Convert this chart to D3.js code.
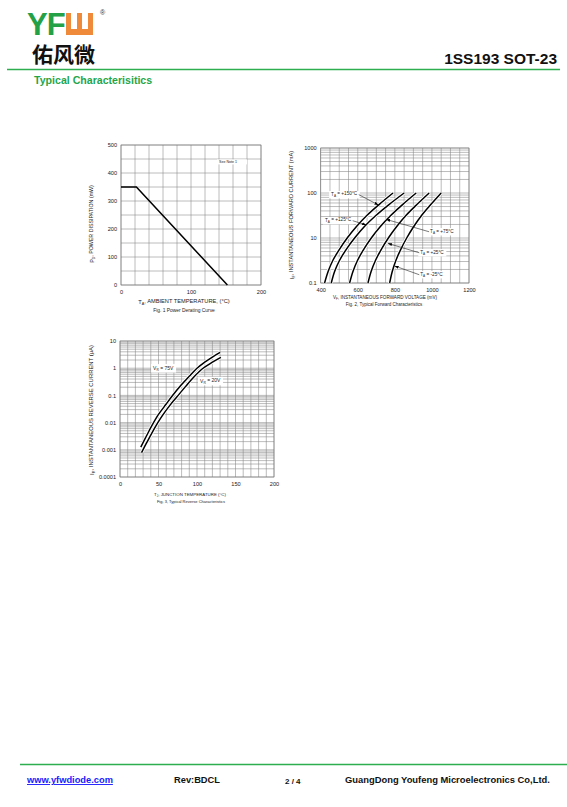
<!DOCTYPE html>
<html lang="en">
<head>
<meta charset="utf-8">
<title>1SS193 SOT-23 Typical Characteristics</title>
<style type="text/css">
body { margin: 0; background: #fff; }
svg { display: block; font-family: "Liberation Sans", Arial, sans-serif; }
.grid line { stroke: #858585; stroke-width: 0.55; }
.frame { fill: none; stroke: #777; stroke-width: 0.6; }
.axis text { fill: #222; }
.curve { fill: none; stroke: #000; stroke-width: 1.5; }
.halo { fill: none; stroke: #fff; stroke-width: 3.2; }
</style>
<script src="https://cdn.jsdelivr.net/npm/d3@7"></script>
</head>
<body>
<script>
// ---- Fig. 1 power derating
var deratingTemp = [0, 22, 152];
var deratingPower = [350, 350, 0];
var fig1XTicks = [0, 100, 200];
var fig1YTicks = [0, 100, 200, 300, 400, 500];

// ---- Fig. 2 forward characteristics (current in the units the grid is drawn in)
var fwdCurrent = [1, 1.8, 3.2, 5.6, 10, 18, 32, 56, 100];
var fwdV150 = [421, 440, 466, 501, 543, 593, 650, 716, 790];
var fwdV125 = [457, 475, 502, 538, 583, 636, 699, 770, 850];
var fwdV75  = [556, 574, 599, 632, 673, 722, 779, 843, 915];
var fwdV25  = [655, 672, 696, 727, 765, 810, 861, 920, 985];
var fwdVm25 = [772, 786, 806, 832, 864, 902, 945, 995, 1050];
var fig2XTicks = [400, 600, 800, 1000, 1200];
var fig2YTicks = [1, 10, 100, 1000];
var fig2YLabels = ["0.1", "10", "100", "1000"];

// ---- Fig. 3 reverse characteristics
var revTemp75 = [27, 35, 41, 50, 60, 67, 80, 90, 100, 110, 120, 130];
var revI75 = [0.00126, 0.0035, 0.0074, 0.02, 0.048, 0.089, 0.25, 0.51, 1.0, 1.66, 2.57, 3.8];
var revTemp20 = [28, 35, 47, 55, 65, 74, 85, 95, 107, 120, 131];
var revI20 = [0.00079, 0.0019, 0.0079, 0.018, 0.044, 0.089, 0.21, 0.447, 0.955, 1.66, 2.5];
var fig3XTicks = [0, 50, 100, 150, 200];
var fig3YTicks = [0.0001, 0.001, 0.01, 0.1, 1, 10];
var fig3YLabels = ["0.0001", "0.001", "0.01", "0.1", "1", "10"];

var W = 567, H = 807;
var svg = d3.select("body").append("svg")
            .attr("width", W)
            .attr("height", H);

var green = "#2eae4f";

// text with subscripts, parts = [[text, "sub"|""], ...]
function rich(sel, parts) {
  var down = false;
  parts.forEach(function(p) {
    var t = sel.append("tspan").text(p[0]);
    if (p[1] == "sub") {
      t.attr("font-size", "65%").attr("dy", "0.3em");
      down = true;
    } else if (down) {
      t.attr("dy", "-0.3em");
      down = false;
    }
  });
  return sel;
}

// ---------------- header
svg.append("text").attr("x", 27).attr("y", 35)
   .attr("font-size", 31).attr("font-weight", "bold")
   .attr("fill", "#24a046").attr("letter-spacing", -1)
   .text("YF");
var lg = svg.append("g").attr("transform", "translate(66,13)");
lg.append("rect").attr("width", 27).attr("height", 22).attr("fill", "#ef8a3a");
lg.append("rect").attr("x", 5).attr("width", 6).attr("height", 16).attr("fill", "#fff");
lg.append("rect").attr("x", 16).attr("width", 6).attr("height", 16).attr("fill", "#fff");
svg.append("text").attr("x", 100).attr("y", 15).attr("font-size", 7).attr("fill", "#333").text("®");
svg.append("text").attr("x", 32).attr("y", 62)
   .attr("font-family", "'Noto Sans CJK SC', sans-serif")
   .attr("font-size", 21).attr("font-weight", "bold").attr("fill", "#111")
   .text("佑风微");
svg.append("text").attr("x", 557).attr("y", 64).attr("text-anchor", "end")
   .attr("font-size", 15.5).attr("font-weight", "bold").attr("fill", "#111")
   .text("1SS193 SOT-23");
svg.append("line").attr("x1", 7).attr("x2", 560).attr("y1", 69.5).attr("y2", 69.5)
   .attr("stroke", green).attr("stroke-width", 1.3);
svg.append("text").attr("x", 34).attr("y", 84)
   .attr("font-size", 10.6).attr("font-weight", "bold").attr("fill", "#1fa64a")
   .text("Typical Characterisitics");

// ---------------- footer
svg.append("line").attr("x1", 20).attr("x2", 567).attr("y1", 764.5).attr("y2", 764.5)
   .attr("stroke", green).attr("stroke-width", 1.3);
svg.append("text").attr("x", 27).attr("y", 783).attr("font-size", 9.3).attr("font-weight", "bold")
   .attr("fill", "#1a1aff").attr("text-decoration", "underline").text("www.yfwdiode.com");
svg.append("text").attr("x", 174).attr("y", 783).attr("font-size", 9.3).attr("font-weight", "bold")
   .attr("fill", "#111").text("Rev:BDCL");
svg.append("text").attr("x", 285).attr("y", 784).attr("font-size", 8).attr("font-weight", "bold")
   .attr("fill", "#111").text("2 / 4");
svg.append("text").attr("x", 345).attr("y", 783).attr("font-size", 9.4).attr("font-weight", "bold")
   .attr("fill", "#111").text("GuangDong Youfeng Microelectronics Co,Ltd.");

// ---------------- shared drawing pieces
function drawGrid(g, x, y, xt, yt) {
  var gr = g.append("g").attr("class", "grid");
  gr.selectAll(".vx").data(xt).enter().append("line")
    .attr("x1", function(d){ return x(d); }).attr("x2", function(d){ return x(d); })
    .attr("y1", y.range()[0]).attr("y2", y.range()[1]);
  gr.selectAll(".hy").data(yt).enter().append("line")
    .attr("y1", function(d){ return y(d); }).attr("y2", function(d){ return y(d); })
    .attr("x1", x.range()[0]).attr("x2", x.range()[1]);
  g.append("rect").attr("class", "frame")
   .attr("x", x.range()[0]).attr("y", y.range()[1])
   .attr("width", x.range()[1] - x.range()[0])
   .attr("height", y.range()[0] - y.range()[1]);
}

function drawAxes(g, x, y, xTicks, yTicks, yFmt, fs) {
  var ax = g.append("g").attr("class", "axis")
    .attr("transform", "translate(0," + y.range()[0] + ")")
    .call(d3.axisBottom(x).tickValues(xTicks).tickSize(0).tickPadding(5)
            .tickFormat(function(d){ return d; }));
  var ay = g.append("g").attr("class", "axis")
    .attr("transform", "translate(" + x.range()[0] + ",0)")
    .call(d3.axisLeft(y).tickValues(yTicks).tickSize(0).tickPadding(4).tickFormat(yFmt));
  [ax, ay].forEach(function(a) {
    a.select(".domain").remove();
    a.selectAll("text").attr("font-size", fs).attr("font-family", null);
  });
}

function label(g, x, y, parts, fs, boxW) {
  var t = g.append("text").attr("x", x).attr("y", y).attr("font-size", fs).attr("fill", "#222");
  rich(t, parts);
  var bb = t.node().getBBox();
  g.insert("rect", function(){ return t.node(); })
   .attr("x", bb.x - 2).attr("y", bb.y - 0.5)
   .attr("width", (boxW || bb.width) + 4).attr("height", bb.height + 1)
   .attr("fill", "#fff");
  return t;
}

function arrow(g, x1, y1, x2, y2) {
  g.append("line").attr("x1", x1).attr("y1", y1).attr("x2", x2).attr("y2", y2)
   .attr("stroke", "#222").attr("stroke-width", 0.6).attr("marker-end", "url(#ah)");
}

svg.append("defs").append("marker").attr("id", "ah")
   .attr("viewBox", "0 0 10 10").attr("refX", 10).attr("refY", 5)
   .attr("markerWidth", 7).attr("markerHeight", 7).attr("orient", "auto")
   .append("path").attr("d", "M0,1.5 L10,5 L0,8.5 Z").attr("fill", "#000");

// ---------------- Fig. 1
(function() {
  var g = svg.append("g");
  var x = d3.scaleLinear().domain([0, 200]).range([121, 261]);
  var y = d3.scaleLinear().domain([0, 500]).range([285, 145]);
  drawGrid(g, x, y, x.ticks(10), y.ticks(10));
  drawAxes(g, x, y, fig1XTicks, fig1YTicks, function(d){ return d; }, 5.6);

  var line = d3.line().x(function(d){ return x(d[0]); }).y(function(d){ return y(d[1]); });
  g.append("path").attr("class", "curve").attr("stroke-width", 1.6)
   .attr("d", line(d3.zip(deratingTemp, deratingPower)));

  label(g, x(140), y(436), [["See Note 1", ""]], 3.6, 26);

  var t = g.append("text").attr("x", 184).attr("y", 304).attr("text-anchor", "middle")
           .attr("font-size", 5.7).attr("fill", "#222");
  rich(t, [["T", ""], ["A", "sub"], [", AMBIENT TEMPERATURE, (°C)", ""]]);
  g.append("text").attr("x", 184).attr("y", 312).attr("text-anchor", "middle")
   .attr("font-size", 4.9).attr("fill", "#222").text("Fig. 1  Power Derating Curve");
  var ty = g.append("text").attr("transform", "translate(94,224) rotate(-90)")
            .attr("text-anchor", "middle").attr("font-size", 5.3).attr("fill", "#222");
  rich(ty, [["P", ""], ["D", "sub"], [", POWER DISSIPATION (mW)", ""]]);
})();

// ---------------- Fig. 2
(function() {
  var g = svg.append("g");
  var x = d3.scaleLinear().domain([400, 1200]).range([320.7, 469]);
  var y = d3.scaleLog().domain([1, 1000]).range([283, 148]);
  drawGrid(g, x, y, x.ticks(16), y.ticks());
  drawAxes(g, x, y, fig2XTicks, fig2YTicks,
           function(d){ return fig2YLabels[fig2YTicks.indexOf(d)]; }, 5.6);

  var line = d3.line().curve(d3.curveCatmullRom)
               .x(function(d){ return x(d[0]); }).y(function(d){ return y(d[1]); });
  [fwdV150, fwdV125, fwdV75, fwdV25, fwdVm25].forEach(function(v) {
    var pts = d3.zip(v, fwdCurrent);
    g.append("path").attr("class", "halo").attr("stroke-width", 2.6).attr("d", line(pts));
    g.append("path").attr("class", "curve").attr("d", line(pts));
  });

  // annotations [text x mV, text y mA, arrow tip mV, arrow tip mA, temperature]
  var notes = [
    [456, 86, 712, 54, "+150°C", "l"],
    [423, 22.7, 646, 19.5, "+125°C", "l"],
    [990, 12.9, 752, 26, "+75°C", "r"],
    [937, 4.4, 762, 7.6, "+25°C", "r"],
    [937, 1.43, 798, 2.4, "-25°C", "r"]
  ];
  notes.forEach(function(n) {
    var t = label(g, x(n[0]), y(n[1]), [["T", ""], ["A", "sub"], [" = " + n[4], ""]], 4.7);
    var bb = t.node().getBBox();
    var sx = n[5] == "l" ? bb.x + bb.width + 1 : bb.x - 1;
    arrow(g, sx, bb.y + bb.height / 2, x(n[2]), y(n[3]));
  });

  var t = g.append("text").attr("x", 385).attr("y", 299).attr("text-anchor", "middle")
           .attr("font-size", 4.6).attr("fill", "#222");
  rich(t, [["V", ""], ["F", "sub"], [", INSTANTANEOUS FORWARD VOLTAGE (mV)", ""]]);
  g.append("text").attr("x", 384).attr("y", 306).attr("text-anchor", "middle")
   .attr("font-size", 4.5).attr("fill", "#222").text("Fig. 2, Typical Forward Characteristics");
  var ty = g.append("text").attr("transform", "translate(294,215) rotate(-90)")
            .attr("text-anchor", "middle").attr("font-size", 5.7).attr("fill", "#222");
  rich(ty, [["I", ""], ["F", "sub"], [", INSTANTANEOUS FORWARD CURRENT (mA)", ""]]);
})();

// ---------------- Fig. 3
(function() {
  var g = svg.append("g");
  var x = d3.scaleLinear().domain([0, 200]).range([120, 274]);
  var y = d3.scaleLog().domain([0.0001, 10]).range([477, 341]);
  drawGrid(g, x, y, x.ticks(20), y.ticks());
  drawAxes(g, x, y, fig3XTicks, fig3YTicks,
           function(d){ return fig3YLabels[fig3YTicks.indexOf(d)]; }, 5.6);

  var line = d3.line().curve(d3.curveCatmullRom)
               .x(function(d){ return x(d[0]); }).y(function(d){ return y(d[1]); });
  [[revTemp75, revI75], [revTemp20, revI20]].forEach(function(s) {
    var pts = d3.zip(s[0], s[1]);
    g.append("path").attr("class", "halo").attr("d", line(pts));
    g.append("path").attr("class", "curve").attr("stroke-width", 1.6).attr("d", line(pts));
  });

  label(g, x(43), y(0.85), [["V", ""], ["R", "sub"], [" = 75V", ""]], 5);
  label(g, x(104), y(0.29), [["V", ""], ["R", "sub"], [" = 20V", ""]], 5);

  var t = g.append("text").attr("x", 190).attr("y", 496).attr("text-anchor", "middle")
           .attr("font-size", 4.4).attr("fill", "#222");
  rich(t, [["T", ""], ["J", "sub"], [", JUNCTION TEMPERATURE (°C)", ""]]);
  g.append("text").attr("x", 191).attr("y", 503).attr("text-anchor", "middle")
   .attr("font-size", 4.0).attr("fill", "#222").text("Fig. 3, Typical Reverse Characteristics");
  var ty = g.append("text").attr("transform", "translate(94,410) rotate(-90)")
            .attr("text-anchor", "middle").attr("font-size", 5.9).attr("fill", "#222");
  rich(ty, [["I", ""], ["R", "sub"], [", INSTANTANEOUS REVERSE CURRENT (μA)", ""]]);
})();
</script>
</body>
</html>
